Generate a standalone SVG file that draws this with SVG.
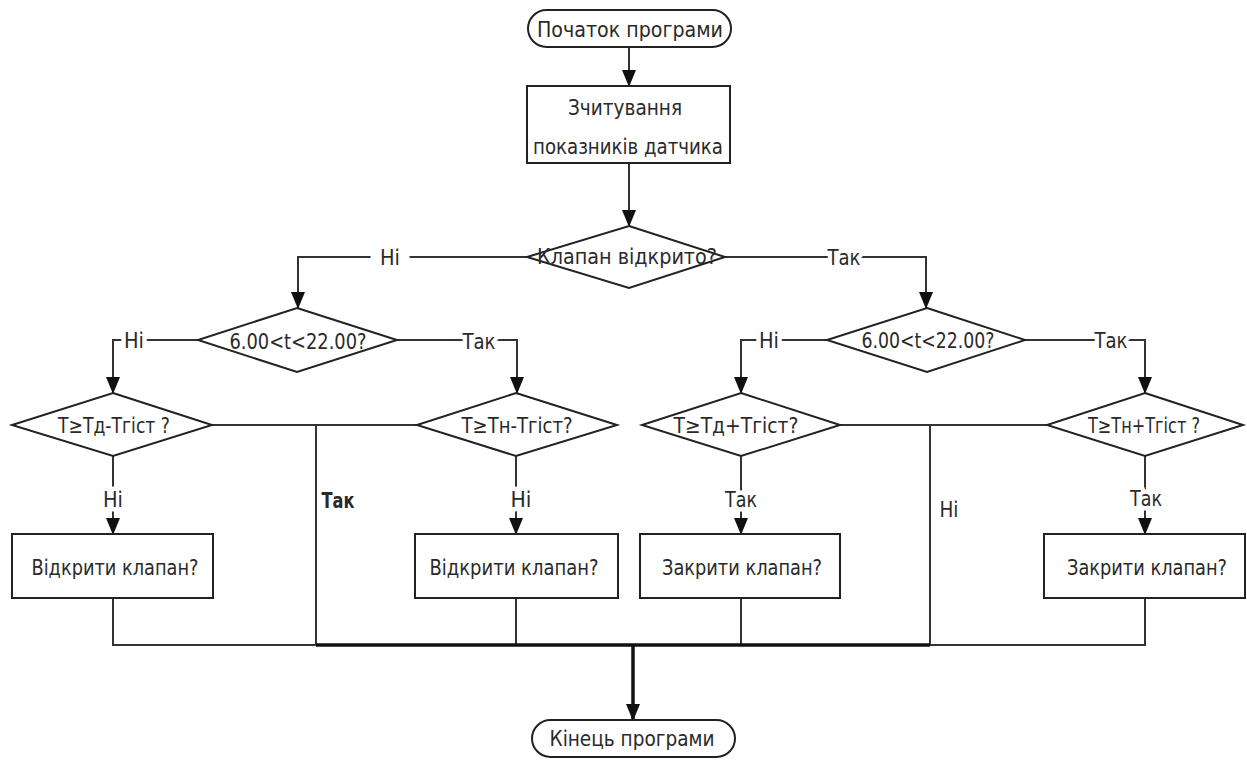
<svg xmlns="http://www.w3.org/2000/svg" width="1247" height="760" viewBox="0 0 1247 760">
  <defs>
    <marker id="arrow" markerUnits="userSpaceOnUse" markerWidth="17" markerHeight="15" refX="16" refY="7" orient="auto">
      <path d="M0,0 L17,7 L0,14 Z" fill="#111"/>
    </marker>
    <style>
      .shape { fill: #fff; stroke: #222; stroke-width: 2; }
      .line { fill: none; stroke: #333; stroke-width: 2; }
      .thick { fill: none; stroke: #111; stroke-width: 3.5; }
      .arr { marker-end: url(#arrow); }
      text { font-family: "DejaVu Sans Condensed", "DejaVu Sans", "Liberation Sans", sans-serif; font-stretch: condensed; font-size: 21px; fill: #2a2a2a; text-anchor: middle; }
      .lbl { stroke: #fff; stroke-width: 9px; paint-order: stroke; stroke-linejoin: round; }
      .wide { stroke-width: 22px; }
    </style>
  </defs>
  <rect width="1247" height="760" fill="#fff"/>

  <!-- connectors -->
  <g id="connectors">
    <path class="line arr" d="M629,47 V86"/>
    <path class="line arr" d="M629,163 V226"/>
    <!-- valve open? no / yes -->
    <path class="line arr" d="M527,257 H298 V308"/>
    <path class="line arr" d="M725,257 H926 V308"/>
    <!-- left time check -->
    <path class="line arr" d="M198,340 H113 V393"/>
    <path class="line arr" d="M397,340 H517 V393"/>
    <!-- right time check -->
    <path class="line arr" d="M827,340 H741 V393"/>
    <path class="line arr" d="M1025,340 H1145 V393"/>
    <!-- threshold checks to actions -->
    <path class="line arr" d="M113,456 V534"/>
    <path class="line arr" d="M516,456 V534"/>
    <path class="line arr" d="M741,456 V534"/>
    <path class="line arr" d="M1145,456 V534"/>
    <!-- bypass branches -->
    <path class="line" d="M212,425 H417"/>
    <path class="line" d="M316,425 V645"/>
    <path class="line" d="M840,425 H1047"/>
    <path class="line" d="M930,425 V645"/>
    <!-- collector -->
    <path class="line" d="M113,598 V645 H316"/>
    <path class="line" d="M516,598 V645"/>
    <path class="line" d="M741,598 V645"/>
    <path class="line" d="M1145,598 V645 H930"/>
    <path class="thick" d="M316,645 H930"/>
    <path class="thick arr" d="M633,645 V720"/>

    <!-- branch labels -->
    <text class="lbl wide" x="390" y="265" textLength="20" lengthAdjust="spacingAndGlyphs">Ні</text>
    <text class="lbl" x="844" y="265" textLength="33" lengthAdjust="spacingAndGlyphs">Так</text>
    <text class="lbl" x="134" y="348" textLength="20" lengthAdjust="spacingAndGlyphs">Ні</text>
    <text class="lbl" x="479" y="349" textLength="33" lengthAdjust="spacingAndGlyphs">Так</text>
    <text class="lbl" x="769" y="348" textLength="20" lengthAdjust="spacingAndGlyphs">Ні</text>
    <text class="lbl" x="1111" y="348" textLength="33" lengthAdjust="spacingAndGlyphs">Так</text>
    <text class="lbl" x="113" y="507" textLength="20" lengthAdjust="spacingAndGlyphs">Ні</text>
    <text class="lbl" x="521" y="507" textLength="21" lengthAdjust="spacingAndGlyphs">Ні</text>
    <text class="lbl" x="741" y="507" textLength="32" lengthAdjust="spacingAndGlyphs">Так</text>
    <text class="lbl" x="1146" y="506" textLength="32" lengthAdjust="spacingAndGlyphs">Так</text>
    <text x="338" y="508" textLength="33" lengthAdjust="spacingAndGlyphs" font-weight="bold">Так</text>
    <text x="949" y="517" textLength="19" lengthAdjust="spacingAndGlyphs">Ні</text>
  </g>

  <g id="start">
    <rect class="shape" x="528" y="10" width="203" height="37" rx="18.5"/>
    <text x="630" y="37" textLength="186" lengthAdjust="spacingAndGlyphs">Початок програми</text>
  </g>

  <g id="read-sensor">
    <rect class="shape" x="527" y="86" width="203" height="77"/>
    <text x="625" y="115" textLength="114" lengthAdjust="spacingAndGlyphs">Зчитування</text>
    <text x="628" y="154" textLength="190" lengthAdjust="spacingAndGlyphs">показників датчика</text>
  </g>

  <g id="valve-open">
    <polygon class="shape" points="629,226 725,257 629,288 527,257"/>
    <text x="627" y="264" textLength="180" lengthAdjust="spacingAndGlyphs">Клапан відкрито?</text>
  </g>

  <g id="time-left">
    <polygon class="shape" points="297,308 397,340 297,372 198,340"/>
    <text x="298" y="349" textLength="137" lengthAdjust="spacingAndGlyphs">6.00&lt;t&lt;22.00?</text>
  </g>

  <g id="time-right">
    <polygon class="shape" points="927,308 1025,340 927,372 827,340"/>
    <text x="928" y="348" textLength="133" lengthAdjust="spacingAndGlyphs">6.00&lt;t&lt;22.00?</text>
  </g>

  <g id="check-day-low">
    <polygon class="shape" points="113,393 212,425 113,456 12,425"/>
    <text x="114" y="433" textLength="112" lengthAdjust="spacingAndGlyphs">Т≥Тд-Тгіст ?</text>
  </g>

  <g id="check-night-low">
    <polygon class="shape" points="516,393 617,425 516,456 417,425"/>
    <text x="517" y="433" textLength="111" lengthAdjust="spacingAndGlyphs">Т≥Тн-Тгіст?</text>
  </g>

  <g id="check-day-high">
    <polygon class="shape" points="741,393 840,425 741,456 642,425"/>
    <text x="736" y="433" textLength="125" lengthAdjust="spacingAndGlyphs">Т≥Тд+Тгіст?</text>
  </g>

  <g id="check-night-high">
    <polygon class="shape" points="1145,393 1243,425 1145,456 1047,425"/>
    <text x="1144" y="433" textLength="112" lengthAdjust="spacingAndGlyphs">Т≥Тн+Тгіст ?</text>
  </g>

  <g id="open-1">
    <rect class="shape" x="12" y="534" width="201" height="64"/>
    <text x="115" y="575" textLength="167" lengthAdjust="spacingAndGlyphs">Відкрити клапан?</text>
  </g>

  <g id="open-2">
    <rect class="shape" x="415" y="534" width="203" height="64"/>
    <text x="514" y="575" textLength="169" lengthAdjust="spacingAndGlyphs">Відкрити клапан?</text>
  </g>

  <g id="close-1">
    <rect class="shape" x="640" y="534" width="200" height="64"/>
    <text x="742" y="575" textLength="160" lengthAdjust="spacingAndGlyphs">Закрити клапан?</text>
  </g>

  <g id="close-2">
    <rect class="shape" x="1044" y="534" width="201" height="64"/>
    <text x="1147" y="575" textLength="160" lengthAdjust="spacingAndGlyphs">Закрити клапан?</text>
  </g>

  <g id="end">
    <rect class="shape" x="532" y="720" width="203" height="37" rx="18.5"/>
    <text x="632" y="746" textLength="165" lengthAdjust="spacingAndGlyphs">Кінець програми</text>
  </g>
</svg>
